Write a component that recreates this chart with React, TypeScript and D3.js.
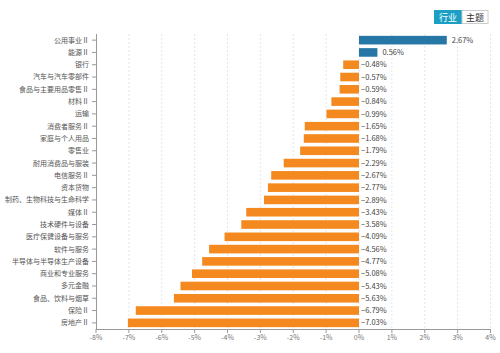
import { useMemo } from 'react';
import * as d3 from 'd3';

const categories = [
  '公用事业Ⅱ',
  '能源Ⅱ',
  '银行',
  '汽车与汽车零部件',
  '食品与主要用品零售Ⅱ',
  '材料Ⅱ',
  '运输',
  '消费者服务Ⅱ',
  '家庭与个人用品',
  '零售业',
  '耐用消费品与服装',
  '电信服务Ⅱ',
  '资本货物',
  '制药、生物科技与生命科学',
  '媒体Ⅱ',
  '技术硬件与设备',
  '医疗保健设备与服务',
  '软件与服务',
  '半导体与半导体生产设备',
  '商业和专业服务',
  '多元金融',
  '食品、饮料与烟草',
  '保险Ⅱ',
  '房地产Ⅱ',
];

const values = [
  2.67, 0.56, -0.48, -0.57, -0.59, -0.84, -0.99, -1.65, -1.68, -1.79, -2.29, -2.67, -2.77, -2.89,
  -3.43, -3.58, -4.09, -4.56, -4.77, -5.08, -5.43, -5.63, -6.79, -7.03,
];

const xTicks = [-8, -7, -6, -5, -4, -3, -2, -1, 0, 1, 2, 3, 4];
const tabs = ['行业', '主题'];

const width = 500;
const height = 353;
const font = '"Noto Sans CJK SC", "Noto Sans", sans-serif';

const App = () => {
  const x = useMemo(() => d3.scaleLinear().domain([-8, 4]).range([96, 490.5]), []);
  const y = useMemo(
    () => d3.scaleBand<string>().domain(categories).range([34, 329]).paddingInner(0.3).paddingOuter(0.15),
    [],
  );

  const rows = categories.map((c, i) => ({ c, v: values[i] }));
  const axisY = 329;

  return (
    <svg
      width={width}
      height={height}
      style={{ position: 'absolute', left: 0, top: 0, background: '#fff' }}
      fontFamily={font}
    >
      {/* tabs */}
      <g>
        <rect x={434} y={10} width={28} height={14} fill="#1b9fc4" />
        <rect x={462} y={10.5} width={26} height={13} fill="#fff" stroke="#ccc" strokeWidth={1} />
        <text x={448} y={20.5} fontSize={9} fill="#fff" textAnchor="middle">
          {tabs[0]}
        </text>
        <text x={475} y={20.5} fontSize={9} fill="#333" textAnchor="middle">
          {tabs[1]}
        </text>
      </g>

      {/* grid */}
      {xTicks.slice(1).map((t) => (
        <line
          key={t}
          x1={x(t)}
          x2={x(t)}
          y1={34}
          y2={axisY}
          stroke="#e6e6e6"
          strokeDasharray="2,2"
          strokeWidth={1}
        />
      ))}

      {/* bars */}
      {rows.map(({ c, v }) => {
        const y0 = y(c)!;
        const x0 = x(Math.min(0, v));
        const x1 = x(Math.max(0, v));
        return (
          <g key={c}>
            <rect
              x={x0}
              y={y0}
              width={x1 - x0}
              height={y.bandwidth()}
              fill={v >= 0 ? '#2677a6' : '#f3891f'}
            />
            <text
              x={v >= 0 ? x1 + 5 : x(0) + 2}
              y={y0 + y.bandwidth() / 2}
              dy="0.35em"
              fontSize={7.5}
              fill="#444"
            >
              {v >= 0 ? `${v.toFixed(2)}%` : `−${Math.abs(v).toFixed(2)}%`}
            </text>
          </g>
        );
      })}

      {/* y axis */}
      <line x1={96.5} x2={96.5} y1={34} y2={axisY} stroke="#999" />
      {categories.map((c) => {
        const cy = y(c)! + y.bandwidth() / 2;
        return (
          <g key={c}>
            <line x1={92} x2={96.5} y1={cy} y2={cy} stroke="#999" />
            <text x={89} y={cy} dy="0.35em" fontSize={7} fill="#555" textAnchor="end">
              {c}
            </text>
          </g>
        );
      })}

      {/* x axis */}
      <line x1={96} x2={491} y1={axisY + 0.5} y2={axisY + 0.5} stroke="#999" />
      {xTicks.map((t) => (
        <g key={t}>
          <line x1={x(t)} x2={x(t)} y1={axisY} y2={axisY + 4} stroke="#999" />
          <text x={x(t)} y={axisY + 11} fontSize={7} fill="#777" textAnchor="middle">
            {`${t}%`}
          </text>
        </g>
      ))}
    </svg>
  );
};

export default App;
